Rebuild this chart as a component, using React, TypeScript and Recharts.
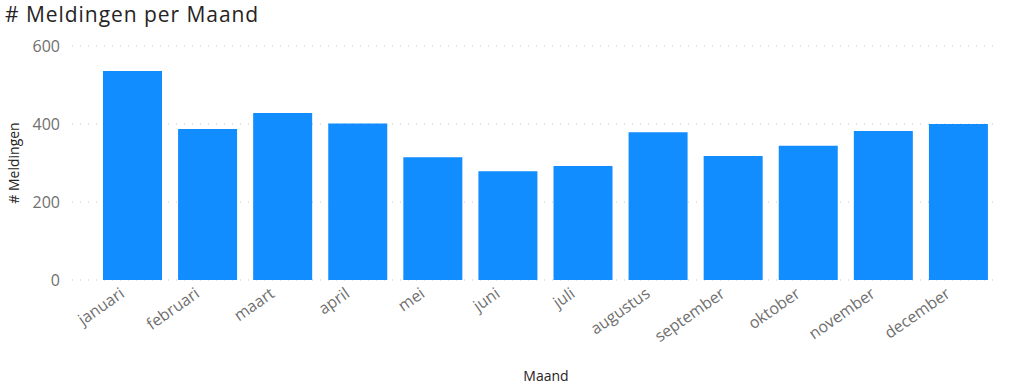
import { BarChart, Bar, XAxis, YAxis, CartesianGrid } from "recharts"

const maanden = [
    "januari",
    "februari",
    "maart",
    "april",
    "mei",
    "juni",
    "juli",
    "augustus",
    "september",
    "oktober",
    "november",
    "december",
]
const meldingen = [536, 387, 428, 401, 315, 279, 292, 379, 318, 344, 382, 400]
const yTicks = [0, 200, 400, 600]

const data = maanden.map((maand, i) => ({ maand, meldingen: meldingen[i] }))

const FONT = '"Segoe UI", "Open Sans", sans-serif'

// schuine maandlabels onder de as
function MaandTick(props: any) {
    const { x, payload } = props
    const ax = x - 7
    const ay = 296
    return (
        <text
            x={ax}
            y={ay}
            textAnchor="end"
            fill="#6f6f6f"
            fontSize={16}
            fontFamily={FONT}
            transform={`rotate(-35, ${ax}, ${ay})`}
        >
            {payload.value}
        </text>
    )
}

export default function App() {
    return (
        <div
            style={{
                position: "absolute",
                left: 0,
                top: 0,
                width: 1014,
                height: 390,
                background: "#ffffff",
                fontFamily: FONT,
            }}
        >
            <div
                style={{
                    position: "absolute",
                    left: 5,
                    top: 0,
                    fontSize: 21,
                    letterSpacing: 0.95,
                    color: "#252423",
                    whiteSpace: "nowrap",
                }}
            >
                # Meldingen per Maand
            </div>
            <BarChart
                width={1014}
                height={390}
                data={data}
                margin={{ top: 46, right: 14, left: 0, bottom: 0 }}
                barCategoryGap={8}
            >
                <CartesianGrid
                    vertical={false}
                    stroke="#c4c4c4"
                    strokeDasharray="1 7"
                    strokeWidth={1.2}
                />
                <XAxis
                    dataKey="maand"
                    height={110}
                    axisLine={false}
                    tickLine={false}
                    interval={0}
                    padding={{ left: 23, right: 4 }}
                    tick={<MaandTick />}
                    label={{
                        value: "Maand",
                        position: "insideBottom",
                        offset: 9,
                        dx: 10,
                        fill: "#252423",
                        fontSize: 14,
                        fontFamily: FONT,
                    }}
                />
                <YAxis
                    width={72}
                    domain={[0, 600]}
                    ticks={yTicks}
                    axisLine={false}
                    tickLine={false}
                    tickSize={0}
                    tickMargin={12}
                    tick={{ fill: "#6f6f6f", fontSize: 16, fontFamily: FONT }}
                    label={{
                        value: "# Meldingen",
                        angle: -90,
                        position: "insideLeft",
                        offset: 14,
                        fill: "#252423",
                        fontSize: 14,
                        fontFamily: FONT,
                        style: { textAnchor: "middle" },
                    }}
                />
                <Bar
                    dataKey="meldingen"
                    fill="#118DFF"
                    isAnimationActive={false}
                />
            </BarChart>
        </div>
    )
}
